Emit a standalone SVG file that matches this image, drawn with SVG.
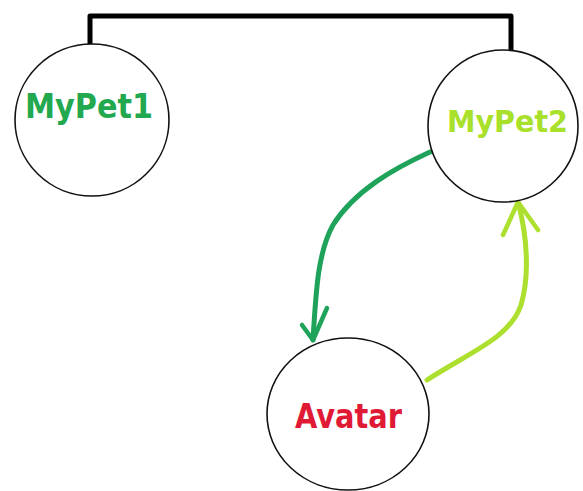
<svg xmlns="http://www.w3.org/2000/svg" width="583" height="491" viewBox="0 0 583 491">
<style>
.node{fill:#fff;stroke:#111;stroke-width:1.6}
.lbl{font-family:"DejaVu Sans","Liberation Sans",sans-serif;font-weight:bold;font-size:33px}
.conn{fill:none;stroke-linecap:round;stroke-linejoin:round}
</style>
<rect width="583" height="491" fill="#fff"/>
<g id="connectors">
<path class="conn" d="M90,45 V16 H511 V50" stroke="#000" stroke-width="5" stroke-linecap="butt" stroke-linejoin="miter"/>
<path class="conn" d="M430,152 C395,168 355,190 333,225 C318,252 316,290 313,340" stroke="#1fa35a" stroke-width="5"/>
<path class="conn" d="M302,325 L313,340 L327,308" stroke="#1fa35a" stroke-width="4.5"/>
<path class="conn" d="M427,380 C470,352 510,338 521,305 C530,275 527,235 518,202" stroke="#acdf2e" stroke-width="5"/>
<path class="conn" d="M503,235 L518,202 L538,230" stroke="#acdf2e" stroke-width="4.5"/>
</g>
<g id="MyPet1">
<ellipse class="node" cx="92" cy="120" rx="77" ry="76"/>
<text class="lbl" x="25" y="118" fill="#22a84f" textLength="128" lengthAdjust="spacingAndGlyphs">MyPet1</text>
</g>
<g id="MyPet2">
<ellipse class="node" cx="503" cy="126" rx="75" ry="76"/>
<text class="lbl" x="447" y="132" fill="#a8e02a" font-size="30" style="font-size:30px" textLength="121" lengthAdjust="spacingAndGlyphs">MyPet2</text>
</g>
<g id="Avatar">
<ellipse class="node" cx="348" cy="414" rx="81" ry="76"/>
<text class="lbl" x="295" y="428" fill="#e01a35" textLength="107" lengthAdjust="spacingAndGlyphs">Avatar</text>
</g>
</svg>
